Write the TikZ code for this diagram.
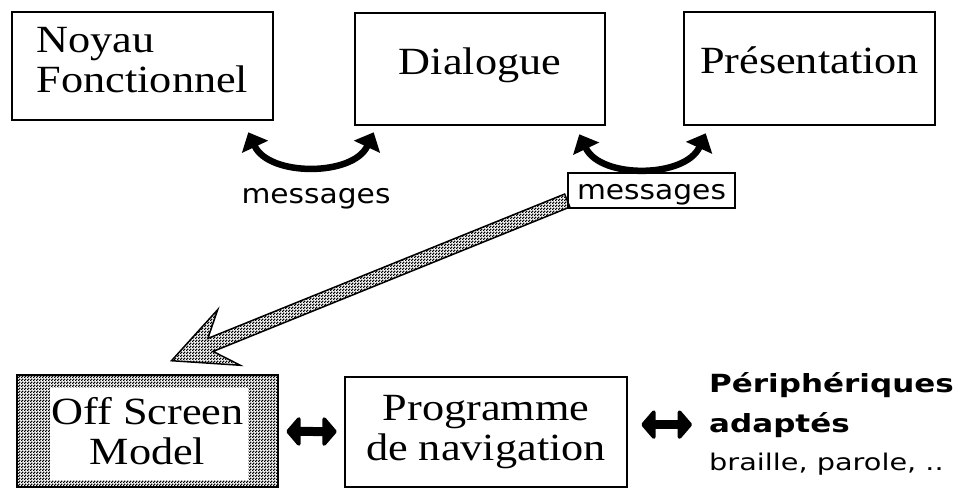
\documentclass[tikz,border=0pt]{standalone}
\usepackage{fontspec}
\usepackage{tikz}
\usetikzlibrary{arrows.meta,calc,patterns}
\newfontfamily\boxfont{Liberation Serif}[FakeStretch=1.15]
\newfontfamily\msgfont{DejaVu Sans}[FakeStretch=1.1]
\newfontfamily\periphfont{DejaVu Sans}[FakeStretch=1.24]
\newfontfamily\braillefont{DejaVu Sans}[FakeStretch=1.25]

\pgfdeclarepatternformonly{stipple}{\pgfpointorigin}{\pgfqpoint{3pt}{3pt}}{\pgfqpoint{3pt}{3pt}}{%
  \pgfpathrectangle{\pgfpointorigin}{\pgfqpoint{1.7pt}{1.7pt}}%
  \pgfpathrectangle{\pgfqpoint{1.5pt}{1.5pt}}{\pgfqpoint{1.7pt}{1.7pt}}%
  \pgfusepath{fill}}

\begin{document}
\begin{tikzpicture}[x=1pt, y=-1pt]
      \tikzstyle{box} = [rectangle, draw=black, line width=2.6pt, inner sep=0pt, align=center, font=\boxfont\fontsize{38.5}{40}\selectfont]
      \tikzstyle{msg} = [inner sep=0pt, font=\msgfont\fontsize{27}{30}\selectfont]
      \tikzstyle{swing} = [line width=6.5pt, {Triangle[length=16pt,width=28pt]}-{Triangle[length=16pt,width=28pt]}]
      \tikzstyle{fat} = [line width=9pt, {Triangle[length=15pt,width=34pt,round]}-{Triangle[length=15pt,width=34pt,round]}]
      \tikzstyle{periph} = [anchor=base west, inner sep=0pt, font=\periphfont\bfseries\fontsize{25}{28}\selectfont]
      \tikzstyle{bigarrow} = [pattern=stipple, draw=black, line width=1.5pt]

      \useasboundingbox (0,0) rectangle (963,488);

      % top row
      \node (noyau) [box, minimum width=261pt, minimum height=108pt, align=left] at (142.5,66) {Noyau\\Fonctionnel\rule[-12pt]{0pt}{0pt}};
      \node (dialogue) [box, minimum width=250pt, minimum height=112pt, text depth=16pt] at (480,69) {Dialogue};
      \node (presentation) [box, minimum width=251pt, minimum height=113pt, text depth=16pt] at (809.5,68.5) {Présentation};

      \node (msg-A) [msg, anchor=base] at (316,203) {messages};
      \node (msg-B) [msg, draw=black, line width=1.5pt, minimum width=167pt, minimum height=35pt, text height=24pt, text depth=6pt] at (651.5,190.5) {messages};

      % bottom row
      \node (osm) [box, minimum width=261pt, minimum height=112pt, pattern=stipple,
          path picture={\fill[white] ($(path picture bounding box.north west)+(33,13)$) rectangle ($(path picture bounding box.south east)+(-30,-7)$);}]
          at (147.5,431) {Off Screen\\Model};
      \node (navigation) [box, minimum width=282pt, minimum height=110pt] at (486,432) {Programme\\de navigation};

      \node (periph-1) [periph] at (709,392) {Périphériques};
      \node (periph-2) [periph] at (709,432) {adaptés};
      \node (periph-3) [periph, font=\braillefont\fontsize{23}{26}\selectfont] at (709,470) {braille, parole, ..};

      % messages between components
      \coordinate (c-1-a) at ($(noyau.south east)+(-26,11)$);
      \coordinate (c-1-b) at ($(dialogue.south west)+(20,6)$);
      \coordinate (c-2-a) at ($(dialogue.south east)+(-27,8)$);
      \coordinate (c-2-b) at ($(presentation.south west)+(23,7)$);
      \draw [swing] (c-1-a) to[bend right=65] (c-1-b);
      \draw [swing] (c-2-a) to[bend right=65] (c-2-b);

      % messages copied to the off screen model
      \coordinate (tail) at ($(msg-B.west)!0.55!(msg-B.south west)$);
      \coordinate (tip) at ($(osm.north)+(24,-13)$);
      \coordinate (barb) at ($(tip)!62pt!(tail)$);
      \coordinate (notch) at ($(tip)!42pt!(tail)$);
      \filldraw [bigarrow] (tip) -- ($(barb)!30pt!90:(tail)$) -- ($(notch)!7pt!90:(tail)$)
          -- ($(tail)!7pt!-90:(tip)$) -- ($(tail)!7pt!90:(tip)$)
          -- ($(notch)!7pt!-90:(tail)$) -- ($(barb)!30pt!-90:(tail)$) -- cycle;

      \draw [fat, shorten <=7pt, shorten >=7pt] (osm) -- (navigation);
      \draw [fat, shorten <=13pt, shorten >=17pt] (navigation.east |- periph-2.west) -- (periph-2.west);
\end{tikzpicture}
\end{document}
